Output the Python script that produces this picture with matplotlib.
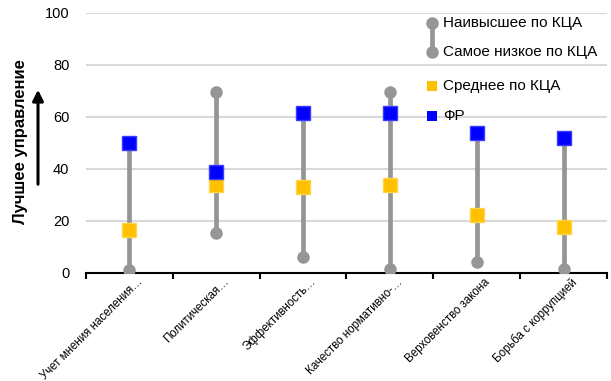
import matplotlib.pyplot as plt
from matplotlib.lines import Line2D
from matplotlib.patches import FancyArrowPatch
import matplotlib.transforms as mtransforms
import numpy as np

plt.rcParams['font.family'] = ['Liberation Sans', 'DejaVu Sans']

categories = ['Учет мнения населения…', 'Политическая…', 'Эффективность…',
              'Качество нормативно-…', 'Верховенство закона', 'Борьба с коррупцией']
highest = [50, 69.6, 61.5, 69.7, 54, 52]
lowest = [1.2, 15.5, 6.3, 1.5, 4.4, 1.5]
average = [16.5, 34, 33, 34, 22.3, 17.8]
fr = [50, 39, 61.5, 61.5, 54, 52]

grey = '#969696'
yellow = '#FFC000'
blue = '#0000FF'

fig = plt.figure(figsize=(6.11, 3.81), dpi=100)
ax = fig.add_axes([0.1407, 0.2835, 0.8528, 0.6824])

x = np.arange(len(categories))
ax.vlines(x, lowest, highest, color=grey, lw=3.4, zorder=2)
ax.plot(x, highest, 'o', color=grey, ms=9, mew=0, zorder=3)
ax.plot(x, lowest, 'o', color=grey, ms=9, mew=0, zorder=3)
ax.plot(x, average, 's', color=yellow, ms=9.5, mec='#FFD54A', mew=1, zorder=4)
ax.plot(x, fr, 's', color=blue, ms=9.5, mec='#3C3CFF', mew=1, zorder=5)

ax.set_xlim(-0.5, len(categories) - 0.5)
ax.set_ylim(0, 100)
ax.set_yticks(range(0, 101, 20))
ax.yaxis.grid(True, color='#D9D9D9', lw=1.5)
ax.set_axisbelow(True)
for side in ['top', 'right', 'left']:
    ax.spines[side].set_visible(False)
ax.spines['bottom'].set_linewidth(1.5)
ax.tick_params(axis='y', length=0, labelsize=10.5, pad=12)

# category boundaries as ticks, labels at the centres
ax.set_xticks(np.arange(len(categories) + 1) - 0.5)
ax.set_xticklabels([])
ax.tick_params(axis='x', which='major', length=4, width=1.5, direction='out')
ax.set_xticks(x, minor=True)
ax.set_xticklabels(categories, minor=True, rotation=45, ha='right',
                   rotation_mode='anchor', fontsize=8.3)
ax.tick_params(axis='x', which='minor', length=0, pad=2)
shift = mtransforms.ScaledTranslation(7 / 100, 0, fig.dpi_scale_trans)
for lab in ax.get_xticklabels(minor=True):
    lab.set_transform(lab.get_transform() + shift)

# y label with arrow
fig.text(21 / 611, 1 - 142 / 381, 'Лучшее управление', rotation=90,
         ha='center', va='center', fontsize=12, fontweight='bold')
fig.add_artist(FancyArrowPatch(
    (38 / 611, 1 - 187 / 381), (38 / 611, 1 - 87 / 381),
    transform=fig.transFigure, arrowstyle='-|>', mutation_scale=16,
    color='black', lw=2.2))

# legend
lx = 432 / 611
ty = [1 - 23 / 381, 1 - 52 / 381, 1 - 86 / 381, 1 - 116 / 381]
fig.add_artist(Line2D([lx, lx], [ty[0], ty[1]], transform=fig.transFigure,
                      color=grey, lw=3.4, marker='o', ms=9, mew=0))
fig.add_artist(Line2D([lx], [ty[2]], transform=fig.transFigure,
                      color=yellow, marker='s', ms=7, mew=0))
fig.add_artist(Line2D([lx], [ty[3]], transform=fig.transFigure,
                      color=blue, marker='s', ms=7, mew=0))
labels = ['Наивысшее по КЦА', 'Самое низкое по КЦА', 'Среднее по КЦА', 'ФР']
for yy, t in zip(ty, labels):
    fig.text(443 / 611, yy, t, ha='left', va='center', fontsize=11)

fig.savefig('out.png', dpi=100)
